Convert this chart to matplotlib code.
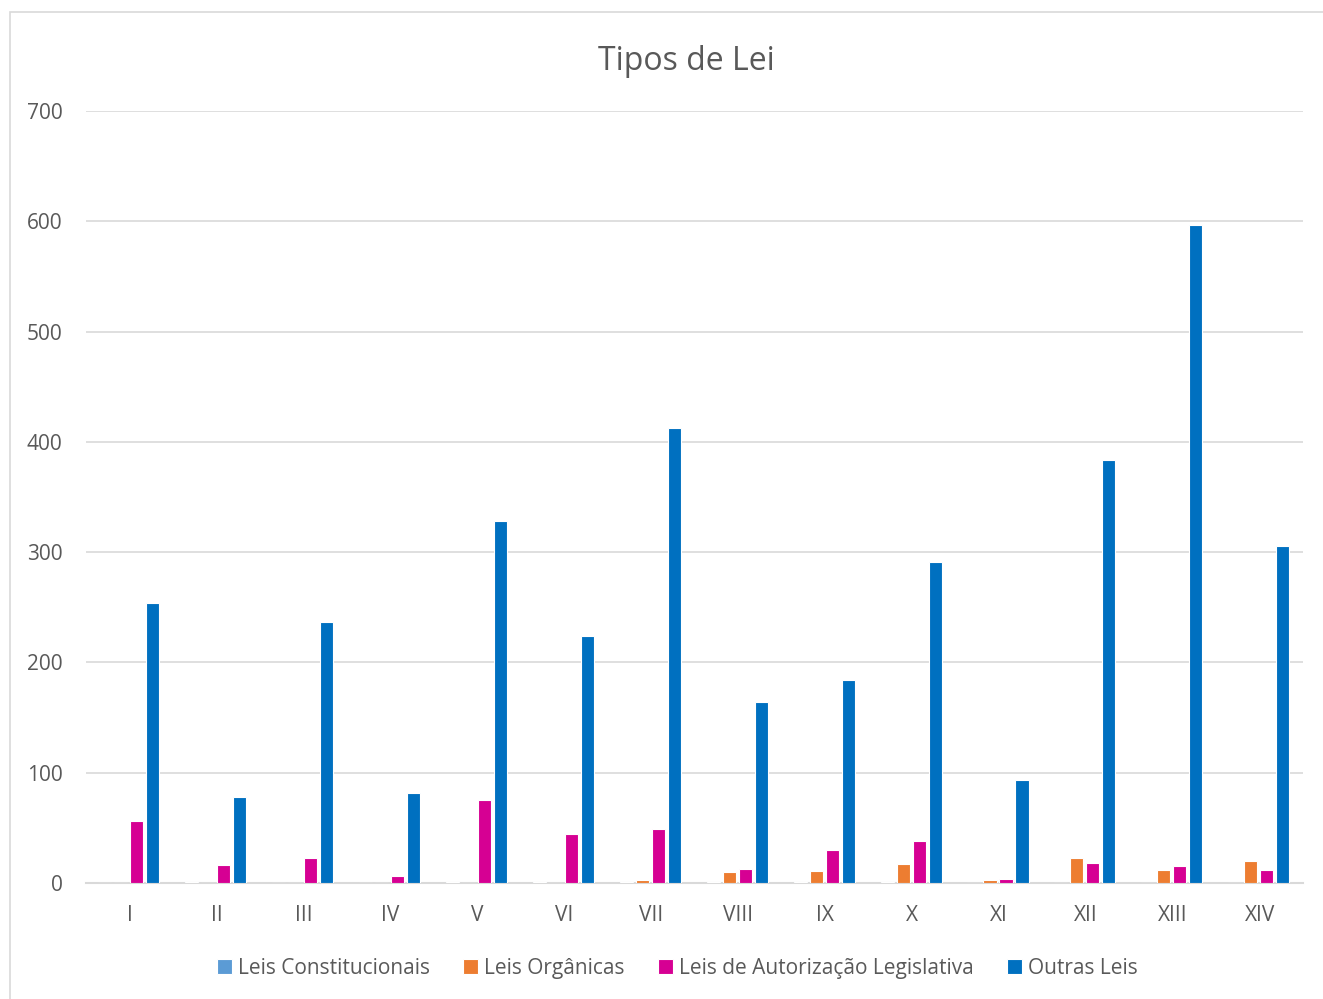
import numpy as np
import matplotlib
matplotlib.use('Agg')
import matplotlib.pyplot as plt
from matplotlib.patches import Rectangle

plt.rcParams['font.family'] = ['Open Sans', 'DejaVu Sans']

legislaturas = ['I', 'II', 'III', 'IV', 'V', 'VI', 'VII', 'VIII', 'IX', 'X', 'XI', 'XII', 'XIII', 'XIV']
leis_constitucionais = [0, 1, 0, 0, 1, 1, 1, 1, 1, 1, 0, 0, 0, 0]
leis_organicas = [0, 0, 0, 0, 0, 0, 3, 10, 11, 17, 3, 23, 12, 20]
leis_autorizacao = [56, 16, 23, 6, 75, 44, 49, 13, 30, 38, 4, 18, 15, 12]
outras_leis = [254, 78, 237, 82, 328, 224, 413, 164, 184, 291, 93, 384, 597, 306]

series = [
    ('Leis Constitucionais', leis_constitucionais, '#5B9BD5'),
    ('Leis Orgânicas', leis_organicas, '#ED7D31'),
    ('Leis de Autorização Legislativa', leis_autorizacao, '#D60093'),
    ('Outras Leis', outras_leis, '#0070C0'),
]

fig = plt.figure(figsize=(13.23, 9.99), dpi=100)
ax = fig.add_axes([0.065, 0.1161, 0.92, 0.7728])

x = np.arange(len(legislaturas))
step = 0.184
width = 0.15
for i, (nome, vals, cor) in enumerate(series):
    ax.bar(x + (i - 1.5) * step - 0.01, vals, width, color=cor, edgecolor='white',
           linewidth=0.8, label=nome, zorder=3)

ax.set_xlim(-0.5, len(legislaturas) - 0.5)
ax.set_ylim(0, 700)
ax.set_yticks(range(0, 701, 100))
ax.set_xticks(x)
ax.set_xticklabels(legislaturas)
ax.tick_params(axis='both', length=0, labelsize=15, colors='#595959')
ax.tick_params(axis='x', pad=16)
ax.tick_params(axis='y', pad=17)
ax.grid(axis='y', color='#D9D9D9', linewidth=1.2, zorder=0)
for s in ['top', 'right', 'left']:
    ax.spines[s].set_visible(False)
ax.spines['bottom'].set_color('#D9D9D9')
ax.spines['bottom'].set_linewidth(1.5)

fig.text(0.5185, 0.938, 'Tipos de Lei', ha='center', va='center',
         fontsize=23, color='#595959')

handles, labels = ax.get_legend_handles_labels()
leg = fig.legend(handles, labels, loc='center', bbox_to_anchor=(0.512, 0.031),
                 ncol=4, frameon=False, fontsize=15, handlelength=0.7,
                 handleheight=0.7, handletextpad=0.3, columnspacing=1.6)
for t in leg.get_texts():
    t.set_color('#595959')

fig.patches.append(Rectangle((10 / 1323, -0.01), 1.02, 0.998, transform=fig.transFigure,
                             fill=False, edgecolor='#D9D9D9', linewidth=1.2))

fig.savefig('out.png', dpi=100)
